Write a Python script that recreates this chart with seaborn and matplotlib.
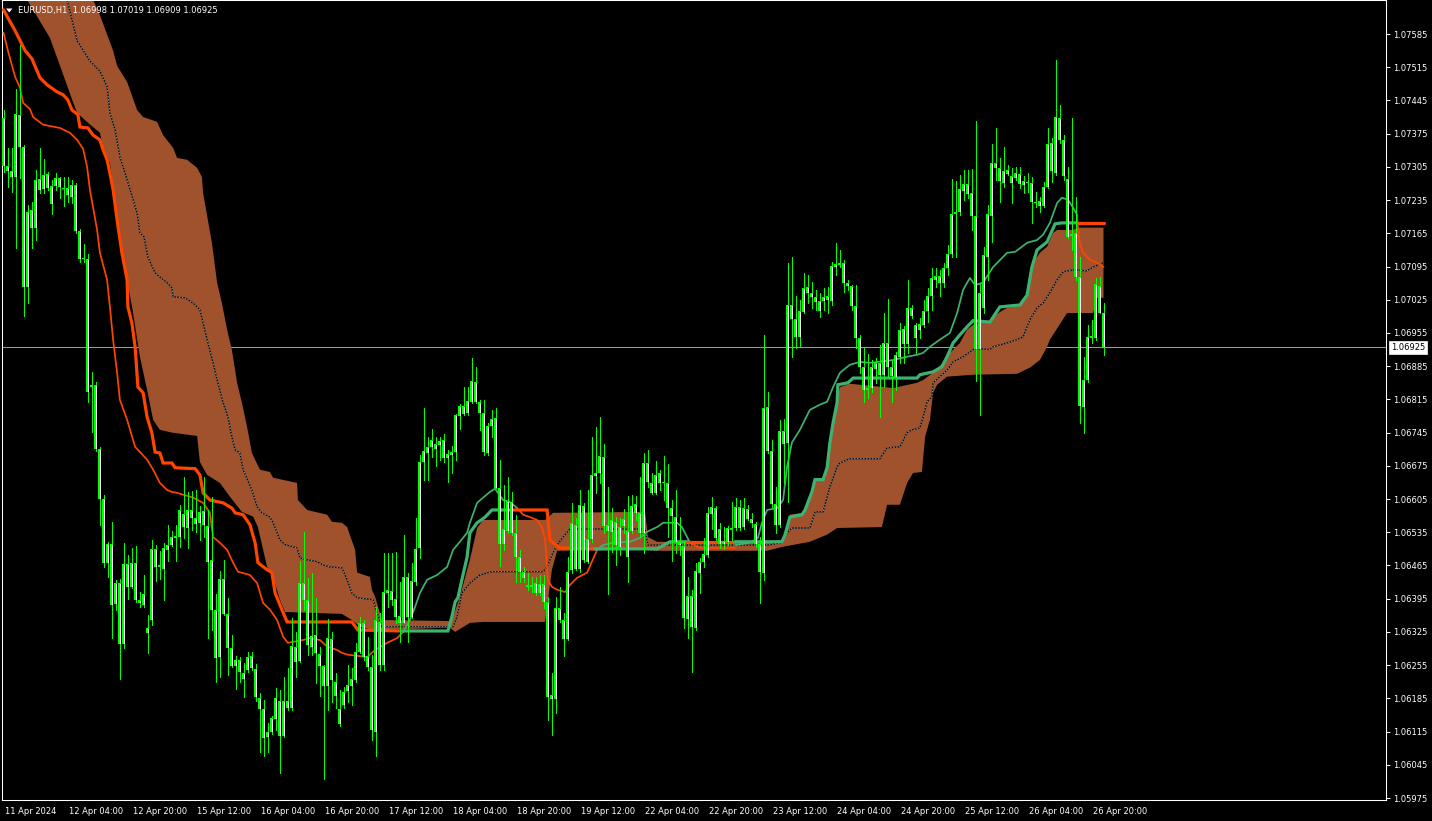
import numpy as np
import matplotlib
matplotlib.use("Agg")
import matplotlib.pyplot as plt
import matplotlib.transforms as mtrans
from matplotlib.patches import Polygon
import seaborn as sns

# ---------------- data (EURUSD H1, 11 Apr 12:00 .. 26 Apr 23:00) ----------------
open_ = [
1.07408,1.07307,1.07297,1.07284,1.07415,1.07347,1.07052,1.07214,1.07176,1.07280,
1.07259,1.07290,1.07265,1.07265,1.07282,1.07261,1.07261,1.07242,1.07267,1.07170,
1.07111,1.07111,1.06841,1.06846,1.06711,1.06605,1.06471,1.06511,1.06384,1.06428,
1.06300,1.06468,1.06420,1.06471,1.06393,1.06382,1.06323,1.06350,1.06500,1.06462,
1.06458,1.06498,1.06508,1.06523,1.06525,1.06574,1.06544,1.06582,1.06565,1.06555,
1.06580,1.06549,1.06477,1.06372,1.06272,1.06437,1.06363,1.06291,1.06253,1.06266,
1.06239,1.06245,1.06275,1.06247,1.06186,1.06163,1.06104,1.06114,1.06142,1.06180,
1.06106,1.06180,1.06165,1.06294,1.06264,1.06428,1.06393,1.06294,1.06319,1.06279,
1.06253,1.06211,1.06310,1.06220,1.06163,1.06171,1.06201,1.06211,1.06224,1.06283,
1.06344,1.06275,1.06251,1.06114,1.06346,1.06256,1.06407,1.06412,1.06395,1.06359,
1.06344,1.06441,1.06357,1.06430,1.06502,1.06683,1.06702,1.06715,1.06721,1.06719,
1.06730,1.06692,1.06698,1.06704,1.06780,1.06801,1.06787,1.06810,1.06852,1.06810,
1.06787,1.06702,1.06759,1.06776,1.06629,1.06511,1.06538,1.06599,1.06534,1.06483,
1.06452,1.06424,1.06420,1.06428,1.06407,1.06426,1.06388,1.06184,1.06184,1.06376,
1.06350,1.06310,1.06456,1.06551,1.06458,1.06591,1.06473,1.06521,1.06654,1.06660,
1.06694,1.06551,1.06536,1.06557,1.06504,1.06549,1.06538,1.06538,1.06595,1.06576,
1.06534,1.06681,1.06639,1.06618,1.06660,1.06639,1.06639,1.06586,1.06567,1.06515,
1.06506,1.06353,1.06401,1.06334,1.06450,1.06473,1.06487,1.06574,1.06586,1.06542,
1.06511,1.06515,1.06544,1.06544,1.06589,1.06546,1.06584,1.06563,1.06553,1.06511,
1.06450,1.06799,1.06707,1.06595,1.06551,1.06749,1.06723,1.07014,1.06985,1.06947,
1.06999,1.07052,1.07040,1.07031,1.07023,1.07023,1.07033,1.07023,1.07094,1.07099,
1.07103,1.07061,1.07054,1.07012,1.06945,1.06884,1.06835,1.06839,1.06879,1.06892,
1.06867,1.06934,1.06884,1.06862,1.06905,1.06964,1.06932,1.07008,1.06972,1.06962,
1.06972,1.07002,1.07033,1.07067,1.07075,1.07061,1.07092,1.07122,1.07206,1.07210,
1.07254,1.07269,1.07250,1.07202,1.06921,1.07008,1.07115,1.07202,1.07313,1.07303,
1.07271,1.07299,1.07286,1.07282,1.07290,1.07267,1.07274,1.07271,1.07231,1.07233,
1.07223,1.07263,1.07356,1.07292,1.07408,1.07362,1.07280,1.07160,1.07166,1.07073,
1.06799,1.06856,1.06945,1.06945,1.07054,1.06998]

high = [
1.07425,1.07345,1.07345,1.07469,1.07562,1.07351,1.07225,1.07231,1.07299,1.07345,
1.07322,1.07295,1.07278,1.07292,1.07284,1.07284,1.07284,1.07278,1.07271,1.07174,
1.07143,1.07122,1.06873,1.06852,1.06715,1.06614,1.06515,1.06557,1.06435,1.06437,
1.06513,1.06487,1.06502,1.06506,1.06409,1.06445,1.06361,1.06519,1.06508,1.06496,
1.06513,1.06551,1.06538,1.06551,1.06593,1.06652,1.06620,1.06622,1.06624,1.06591,
1.06652,1.06582,1.06610,1.06405,1.06454,1.06477,1.06397,1.06319,1.06275,1.06272,
1.06260,1.06283,1.06283,1.06258,1.06197,1.06182,1.06133,1.06148,1.06207,1.06203,
1.06230,1.06249,1.06355,1.06325,1.06475,1.06536,1.06439,1.06450,1.06397,1.06294,
1.06256,1.06353,1.06325,1.06239,1.06203,1.06209,1.06256,1.06249,1.06302,1.06357,
1.06350,1.06315,1.06277,1.06378,1.06365,1.06492,1.06492,1.06492,1.06494,1.06430,
1.06530,1.06450,1.06471,1.06565,1.06698,1.06797,1.06736,1.06753,1.06736,1.06736,
1.06742,1.06709,1.06717,1.06785,1.06806,1.06841,1.06841,1.06903,1.06884,1.06814,
1.06814,1.06766,1.06793,1.06797,1.06688,1.06635,1.06652,1.06620,1.06572,1.06498,
1.06462,1.06450,1.06441,1.06441,1.06445,1.06445,1.06399,1.06239,1.06399,1.06420,
1.06365,1.06483,1.06597,1.06565,1.06624,1.06597,1.06624,1.06736,1.06757,1.06778,
1.06721,1.06631,1.06586,1.06567,1.06565,1.06584,1.06612,1.06614,1.06612,1.06652,
1.06702,1.06709,1.06660,1.06686,1.06667,1.06696,1.06679,1.06603,1.06624,1.06567,
1.06515,1.06441,1.06414,1.06471,1.06481,1.06523,1.06589,1.06610,1.06591,1.06555,
1.06546,1.06549,1.06599,1.06608,1.06603,1.06608,1.06593,1.06576,1.06557,1.06525,
1.06951,1.06831,1.06730,1.06631,1.06772,1.06774,1.07103,1.07115,1.07033,1.07025,
1.07082,1.07077,1.07063,1.07046,1.07040,1.07050,1.07052,1.07105,1.07145,1.07130,
1.07109,1.07067,1.07056,1.07056,1.06951,1.06926,1.06911,1.06898,1.06903,1.06930,
1.06997,1.07027,1.06898,1.06915,1.06976,1.06970,1.07067,1.07014,1.06976,1.06987,
1.07025,1.07050,1.07092,1.07092,1.07088,1.07103,1.07141,1.07280,1.07276,1.07288,
1.07299,1.07299,1.07301,1.07402,1.07061,1.07136,1.07225,1.07353,1.07387,1.07324,
1.07347,1.07309,1.07303,1.07305,1.07305,1.07286,1.07292,1.07284,1.07252,1.07242,
1.07274,1.07387,1.07366,1.07531,1.07436,1.07372,1.07305,1.07408,1.07242,1.07115,
1.06905,1.06972,1.06983,1.07071,1.07073,1.07019]

low = [
1.07295,1.07263,1.07252,1.07134,1.07282,1.06991,1.07018,1.07134,1.07151,1.07250,
1.07250,1.07257,1.07206,1.07257,1.07240,1.07223,1.07231,1.07229,1.07166,1.07105,
1.07105,1.06810,1.06747,1.06707,1.06551,1.06462,1.06441,1.06312,1.06372,1.06226,
1.06291,1.06395,1.06418,1.06388,1.06378,1.06378,1.06281,1.06340,1.06433,1.06437,
1.06393,1.06475,1.06506,1.06475,1.06504,1.06523,1.06502,1.06540,1.06536,1.06519,
1.06525,1.06312,1.06329,1.06220,1.06230,1.06361,1.06235,1.06251,1.06205,1.06220,
1.06188,1.06241,1.06245,1.06180,1.06072,1.06064,1.06072,1.06110,1.06119,1.06028,
1.06104,1.06161,1.06161,1.06230,1.06262,1.06372,1.06277,1.06277,1.06218,1.06190,
1.06015,1.06161,1.06178,1.06165,1.06127,1.06165,1.06178,1.06171,1.06220,1.06281,
1.06266,1.06245,1.06098,1.06064,1.06245,1.06245,1.06378,1.06382,1.06344,1.06304,
1.06344,1.06304,1.06355,1.06424,1.06481,1.06645,1.06645,1.06694,1.06675,1.06688,
1.06683,1.06641,1.06660,1.06688,1.06753,1.06783,1.06783,1.06808,1.06808,1.06751,
1.06698,1.06698,1.06736,1.06629,1.06464,1.06498,1.06534,1.06530,1.06430,1.06430,
1.06430,1.06414,1.06410,1.06403,1.06403,1.06376,1.06140,1.06108,1.06155,1.06346,
1.06275,1.06308,1.06450,1.06456,1.06452,1.06473,1.06471,1.06515,1.06618,1.06639,
1.06534,1.06405,1.06494,1.06466,1.06487,1.06534,1.06430,1.06534,1.06561,1.06525,
1.06492,1.06631,1.06616,1.06616,1.06624,1.06603,1.06525,1.06475,1.06492,1.06487,
1.06334,1.06312,1.06241,1.06329,1.06407,1.06462,1.06483,1.06542,1.06519,1.06502,
1.06500,1.06508,1.06519,1.06540,1.06540,1.06542,1.06561,1.06546,1.06504,1.06386,
1.06435,1.06702,1.06589,1.06534,1.06546,1.06639,1.06599,1.06905,1.06924,1.06926,
1.06997,1.07018,1.07008,1.07004,1.06989,1.07004,1.06997,1.07014,1.07077,1.07094,
1.07042,1.07046,1.07004,1.06924,1.06871,1.06810,1.06818,1.06831,1.06850,1.06778,
1.06841,1.06862,1.06810,1.06835,1.06892,1.06892,1.06913,1.06987,1.06913,1.06945,
1.06968,1.06978,1.07004,1.07052,1.07033,1.07052,1.07077,1.07115,1.07115,1.07204,
1.07236,1.07240,1.07172,1.06854,1.06783,1.06997,1.07067,1.07147,1.07278,1.07231,
1.07263,1.07288,1.07229,1.07278,1.07261,1.07250,1.07252,1.07187,1.07221,1.07210,
1.07221,1.07261,1.07274,1.07288,1.07356,1.07278,1.07155,1.07130,1.07067,1.06766,
1.06744,1.06852,1.06934,1.06940,1.06997,1.06909]

close = [
1.07307,1.07297,1.07284,1.07417,1.07347,1.07052,1.07210,1.07176,1.07278,1.07257,
1.07288,1.07261,1.07227,1.07282,1.07263,1.07259,1.07246,1.07267,1.07170,1.07111,
1.07113,1.06831,1.06846,1.06711,1.06605,1.06471,1.06511,1.06382,1.06428,1.06300,
1.06468,1.06420,1.06471,1.06393,1.06386,1.06405,1.06334,1.06500,1.06462,1.06466,
1.06502,1.06508,1.06525,1.06527,1.06582,1.06546,1.06582,1.06565,1.06553,1.06578,
1.06551,1.06473,1.06372,1.06270,1.06437,1.06363,1.06291,1.06253,1.06266,1.06241,
1.06226,1.06272,1.06249,1.06188,1.06163,1.06102,1.06114,1.06144,1.06186,1.06106,
1.06180,1.06165,1.06296,1.06262,1.06428,1.06393,1.06298,1.06317,1.06281,1.06253,
1.06211,1.06312,1.06224,1.06190,1.06131,1.06199,1.06213,1.06226,1.06283,1.06344,
1.06272,1.06251,1.06119,1.06350,1.06256,1.06409,1.06414,1.06393,1.06357,1.06344,
1.06441,1.06357,1.06433,1.06500,1.06683,1.06707,1.06715,1.06730,1.06711,1.06728,
1.06692,1.06700,1.06704,1.06783,1.06801,1.06785,1.06812,1.06854,1.06810,1.06787,
1.06704,1.06759,1.06774,1.06629,1.06511,1.06542,1.06601,1.06534,1.06483,1.06452,
1.06439,1.06420,1.06424,1.06407,1.06426,1.06388,1.06188,1.06192,1.06376,1.06350,
1.06310,1.06452,1.06555,1.06458,1.06593,1.06477,1.06521,1.06656,1.06660,1.06696,
1.06549,1.06538,1.06561,1.06508,1.06546,1.06563,1.06483,1.06591,1.06576,1.06534,
1.06681,1.06641,1.06618,1.06656,1.06639,1.06641,1.06586,1.06570,1.06515,1.06508,
1.06355,1.06401,1.06336,1.06454,1.06473,1.06490,1.06576,1.06589,1.06523,1.06511,
1.06517,1.06544,1.06540,1.06589,1.06544,1.06586,1.06563,1.06555,1.06511,1.06452,
1.06797,1.06707,1.06595,1.06551,1.06749,1.06721,1.07014,1.06985,1.06947,1.07002,
1.07050,1.07040,1.07031,1.07021,1.07002,1.07031,1.07025,1.07096,1.07101,1.07103,
1.07061,1.07054,1.07012,1.06945,1.06884,1.06835,1.06839,1.06884,1.06892,1.06867,
1.06934,1.06884,1.06865,1.06909,1.06962,1.06932,1.07008,1.06991,1.06945,1.06974,
1.07002,1.07033,1.07071,1.07075,1.07061,1.07092,1.07122,1.07206,1.07210,1.07259,
1.07269,1.07248,1.07202,1.06921,1.07040,1.07120,1.07206,1.07313,1.07303,1.07276,
1.07297,1.07290,1.07271,1.07292,1.07269,1.07276,1.07271,1.07231,1.07229,1.07223,
1.07263,1.07353,1.07297,1.07410,1.07362,1.07286,1.07158,1.07164,1.07073,1.06801,
1.06856,1.06947,1.06949,1.07058,1.06997,1.06925]

# band (cloud) upper / lower edges and its dotted middle line (bar index, price)
band_up_x = [0,11.6,22.4,24.1,27.4,28.4,30.9,33.4,34.9,38.4,39.9,42.4,43.4,45.9,48.4,49.6,49.9,52.1,53.4,54.6,
             55.9,57.1,58.4,59.6,60.9,62.1,64.1,66.6,67.4,73.4,73.6,75.9,80.9,82.1,84.6,85.9,87.9,88.4,91.6,92.1,
             92.9,94.1,94.6,111.6,112.4,114.1,116.6,118.4,119.9,135.4,137.4,160.4,161.1,163.4,190.9,194.9,196.6,199.9,201.6,202.4,
             205.4,206.1,207.1,207.9,209.1,211.6,222.4,228.4,229.9,232.4,234.9,236.6,239.1,240.9,242.4,244.1,246.6,247.4,249.1,250.9,
             254.1,255.9,256.6,257.4,259.1,260.9,262.4,263.4,267.4,268.4,275]
band_up_y = [1.07868,1.07762,1.07657,1.07625,1.07550,1.07518,1.07484,1.07425,1.07410,1.07400,1.07372,1.07345,1.07324,1.07320,1.07303,1.07284,1.07250,1.07145,1.07061,1.07018,
             1.06962,1.06919,1.06850,1.06808,1.06757,1.06702,1.06667,1.06662,1.06650,1.06639,1.06603,1.06582,1.06572,1.06557,1.06555,1.06546,1.06498,1.06450,1.06441,1.06414,
             1.06399,1.06365,1.06350,1.06348,1.06357,1.06399,1.06477,1.06544,1.06561,1.06561,1.06576,1.06578,1.06525,1.06515,1.06515,1.06519,1.06572,1.06576,1.06603,1.06646,
             1.06648,1.06688,1.06745,1.06799,1.06841,1.06848,1.06839,1.06850,1.06856,1.06871,1.06892,1.06913,1.06934,1.06962,1.06972,1.06976,1.06978,1.06989,1.06999,1.07008,
             1.07012,1.07031,1.07067,1.07103,1.07124,1.07137,1.07166,1.07172,1.07172,1.07177,1.07177]
band_lo_x = [0,5.9,11.6,14.6,17.1,18.4,21.1,24.1,24.9,26.6,28.4,30.9,32.4,34.1,35.9,37.4,39.1,42.1,48.4,49.1,
             50.9,54.1,56.6,59.6,62.4,63.6,65.9,67.4,69.1,70.4,77.4,84.6,87.1,89.1,92.4,111.6,112.9,116.6,119.9,135.4,
             137.1,138.4,160.4,163.4,190.9,194.6,201.6,205.9,208.4,219.6,220.9,224.1,225.9,227.4,229.6,230.4,231.6,232.4,233.4,235.9,
             242.4,253.4,256.6,259.1,260.9,261.6,265.9,272.4,273.4,275]
band_lo_y = [1.07741,1.07657,1.07577,1.07507,1.07448,1.07419,1.07398,1.07377,1.07347,1.07313,1.07208,1.07067,1.06997,1.06905,1.06835,1.06772,1.06751,1.06745,1.06738,1.06683,
             1.06656,1.06639,1.06610,1.06578,1.06568,1.06546,1.06462,1.06441,1.06393,1.06367,1.06365,1.06363,1.06350,1.06336,1.06329,1.06334,1.06325,1.06344,1.06346,1.06346,
             1.06456,1.06496,1.06498,1.06496,1.06496,1.06504,1.06515,1.06530,1.06544,1.06546,1.06593,1.06593,1.06639,1.06660,1.06662,1.06736,1.06772,1.06829,1.06846,1.06863,
             1.06867,1.06869,1.06882,1.06898,1.06926,1.06941,1.06997,1.06997,1.07029,1.07029]
mid_x = [0,15.9,18.4,21.6,24.1,25.9,26.6,27.9,29.1,30.9,32.4,33.4,34.1,35.1,36.1,37.9,39.1,40.9,42.1,42.4,
         45.4,47.4,49.1,49.9,50.9,52.4,53.4,54.9,56.1,57.1,57.9,59.1,59.9,62.1,63.4,64.6,66.6,67.4,69.1,70.4,
         73.4,74.1,75.9,78.4,79.9,81.6,84.6,85.9,87.1,88.4,92.4,93.4,94.1,94.6,112.4,113.4,114.6,116.6,119.1,122.1,
         134.9,135.9,137.1,138.4,139.9,141.6,160.4,161.1,190.9,194.6,195.9,197.1,201.6,202.9,204.9,206.6,208.4,209.1,211.6,219.1,
         220.9,224.1,225.9,227.1,229.1,229.9,230.9,232.1,232.4,234.1,235.9,237.4,239.9,242.4,244.1,246.6,247.4,250.9,253.4,254.9,
         256.6,258.4,259.9,261.6,263.4,264.9,267.4,270.9,272.4,275]
mid_y = [1.07805,1.07657,1.07571,1.07528,1.07507,1.07474,1.07419,1.07383,1.07326,1.07278,1.07236,1.07208,1.07166,1.07158,1.07115,1.07082,1.07073,1.07061,1.07050,1.07031,
         1.07029,1.07018,1.07004,1.06976,1.06941,1.06892,1.06856,1.06808,1.06778,1.06736,1.06709,1.06702,1.06667,1.06624,1.06589,1.06576,1.06567,1.06555,1.06519,1.06509,
         1.06502,1.06481,1.06477,1.06473,1.06466,1.06462,1.06460,1.06435,1.06407,1.06397,1.06393,1.06365,1.06350,1.06336,1.06336,1.06357,1.06407,1.06428,1.06445,1.06452,
         1.06452,1.06462,1.06487,1.06508,1.06525,1.06542,1.06542,1.06508,1.06508,1.06513,1.06534,1.06544,1.06544,1.06578,1.06578,1.06631,1.06673,1.06681,1.06690,1.06690,
         1.06713,1.06715,1.06745,1.06751,1.06755,1.06778,1.06810,1.06821,1.06850,1.06863,1.06877,1.06894,1.06905,1.06920,1.06922,1.06920,1.06926,1.06934,1.06941,1.06947,
         1.06983,1.07008,1.07018,1.07040,1.07067,1.07084,1.07088,1.07086,1.07094,1.07103]

# thick trend line: alternating runs (down = orange, up = green)
thick_dn1_x = [0,2.9,5.4,7.1,9.1,10.9,13.4,14.9,16.1,17.1,18.6,19.1,21.1,22.4,24.1,24.9,25.9,26.6,27.4,28.4,
               29.6,30.9,31.1,32.1,32.9,33.6,34.9,35.9,37.1,37.9,39.1,39.9,42.1,42.9,47.9,49.1,49.9,51.6,54.9,57.1,
               57.9,59.9,61.6,62.9,63.6,65.9,67.1,67.9,69.6,70.9,87.1,88.6,99.9]
thick_dn1_y = [1.07636,1.07592,1.07550,1.07533,1.07493,1.07478,1.07463,1.07457,1.07446,1.07425,1.07415,1.07389,1.07387,1.07372,1.07362,1.07341,1.07320,1.07292,1.07257,1.07193,
               1.07124,1.07067,1.07010,1.06976,1.06926,1.06841,1.06829,1.06778,1.06744,1.06704,1.06702,1.06681,1.06681,1.06671,1.06669,1.06656,1.06618,1.06603,1.06597,1.06586,
               1.06576,1.06572,1.06551,1.06513,1.06471,1.06456,1.06450,1.06407,1.06372,1.06346,1.06346,1.06329,1.06327]
thick_up1_x = [99.9,111.1,112.1,112.9,113.6,114.6,115.9,116.6,118.4,119.1,120.4,122.1,127.1]
thick_up1_y = [1.06327,1.06327,1.06357,1.06388,1.06397,1.06435,1.06483,1.06534,1.06555,1.06559,1.06567,1.06582,1.06582]
thick_dn2_x = [127.1,135.9,136.6,137.4,139.1,147.9]
thick_dn2_y = [1.06582,1.06582,1.06519,1.06513,1.06502,1.06500]
thick_up2_x = [147.9,163.4,166.6,170.9]
thick_up2_y = [1.06500,1.06500,1.06515,1.06515]
thick_dn3_x = [170.9,182.9]
thick_dn3_y = [1.06515,1.06515]
thick_up3_x = [182.9,194.6,195.4,196.6,199.6,200.4,202.1,202.9,204.9,205.9,206.6,207.4,208.4,208.6,211.1,212.4,228.4,229.1,232.4,234.6,
               235.9,237.4,239.1,240.9,242.4,246.6,249.1,254.1,255.9,257.1,258.4,260.9,262.9,264.6,268.4]
thick_up3_y = [1.06515,1.06515,1.06530,1.06567,1.06572,1.06582,1.06620,1.06646,1.06646,1.06671,1.06724,1.06766,1.06808,1.06846,1.06850,1.06860,1.06860,1.06867,1.06873,1.06884,
               1.06905,1.06934,1.06951,1.06968,1.06981,1.06978,1.07010,1.07014,1.07035,1.07094,1.07130,1.07147,1.07185,1.07187,1.07187]
thick_dn4_x = [268.4,275]
thick_dn4_y = [1.07187,1.07187]

# thin signal line: alternating runs (down = orange, up = green)
thin_dn1_x = [0,1.1,2.9,4.1,4.9,6.6,7.4,9.9,14.1,16.6,18.4,19.9,20.9,21.6,23.4,24.1,25.9,26.6,27.4,28.4,
              29.1,30.9,32.9,35.9,37.4,39.1,40.9,42.1,43.4,47.4,49.9,51.6,52.4,54.1,55.9,57.4,58.6,61.6,63.4,64.9,
              66.6,68.4,69.9,71.1,74.9,76.6,79.1,80.9,83.4,84.6,86.1,90.9,92.9,95.9,98.4,99.9]
thin_dn1_y = [1.07588,1.07550,1.07495,1.07472,1.07440,1.07427,1.07410,1.07394,1.07387,1.07377,1.07362,1.07343,1.07305,1.07257,1.07172,1.07124,1.07067,1.07010,1.06941,1.06871,
              1.06814,1.06772,1.06715,1.06688,1.06667,1.06639,1.06624,1.06620,1.06618,1.06608,1.06597,1.06576,1.06525,1.06513,1.06498,1.06471,1.06452,1.06445,1.06428,1.06386,
              1.06372,1.06350,1.06315,1.06302,1.06308,1.06312,1.06308,1.06294,1.06287,1.06281,1.06277,1.06272,1.06287,1.06302,1.06312,1.06325]
thin_up1_x = [99.9,101.6,102.9,104.1,105.9,108.4,110.9,112.4,114.1,115.9,116.6,118.4,119.9,121.6,122.9,123.6,124.9,126.6,128.4]
thin_up1_y = [1.06325,1.06350,1.06378,1.06407,1.06435,1.06445,1.06462,1.06498,1.06515,1.06534,1.06555,1.06597,1.06608,1.06620,1.06627,1.06618,1.06603,1.06599,1.06586]
thin_dn2_x = [128.4,129.9,131.6,133.4,134.6,135.4,136.1,137.1,138.4,140.4,141.6,143.4,145.9,147.1,148.4]
thin_dn2_y = [1.06586,1.06572,1.06567,1.06561,1.06546,1.06519,1.06435,1.06420,1.06414,1.06409,1.06424,1.06439,1.06450,1.06473,1.06498]
thin_up2_x = [148.4,149.9,152.4,156.6,159.1,160.9,163.4,164.9,168.4,169.6,170.9,171.6]
thin_up2_y = [1.06498,1.06508,1.06513,1.06515,1.06523,1.06536,1.06546,1.06555,1.06555,1.06546,1.06525,1.06513]
thin_dn3_x = [171.6,174.1,182.9]
thin_dn3_y = [1.06513,1.06502,1.06502]
thin_up3_x = [182.9,186.6,188.6,189.6,190.9,193.4,194.9,195.9,197.1,199.1,201.6,204.1,205.9,207.4,209.1,211.6,214.1,216.6,222.4,225.9,
              228.4,229.9,231.6,234.1,236.6,238.4,239.9,241.6,242.9,244.9,247.4,250.9,252.9,255.9,258.4,259.9,261.6,263.4,264.6,266.1,
              267.4,268.4]
thin_up3_y = [1.06508,1.06513,1.06523,1.06555,1.06582,1.06586,1.06603,1.06673,1.06724,1.06751,1.06793,1.06804,1.06810,1.06841,1.06871,1.06888,1.06894,1.06892,1.06898,1.06905,
              1.06909,1.06913,1.06926,1.06941,1.06955,1.06997,1.07046,1.07071,1.07056,1.07061,1.07094,1.07124,1.07126,1.07145,1.07151,1.07162,1.07187,1.07229,1.07240,1.07236,
              1.07219,1.07204]
thin_dn4_x = [268.4,268.6,269.1,269.9,271.6,273.4,275]
thin_dn4_y = [1.07204,1.07172,1.07145,1.07124,1.07109,1.07103,1.07094]

last_price = 1.06925
header = "EURUSD,H1  1.06998 1.07019 1.06909 1.06925"
x_tick_bars = [0, 16, 32, 48, 64, 80, 96, 112, 128, 144, 160, 176, 192, 208, 224, 240, 256, 272]
x_tick_labels = ["11 Apr 2024", "12 Apr 04:00", "12 Apr 20:00", "15 Apr 12:00", "16 Apr 04:00",
                 "16 Apr 20:00", "17 Apr 12:00", "18 Apr 04:00", "18 Apr 20:00", "19 Apr 12:00",
                 "22 Apr 04:00", "22 Apr 20:00", "23 Apr 12:00", "24 Apr 04:00", "24 Apr 20:00",
                 "25 Apr 12:00", "26 Apr 04:00", "26 Apr 20:00"]
y_tick_labels = ["1.07585", "1.07515", "1.07445", "1.07375", "1.07305", "1.07235", "1.07165", "1.07095",
                 "1.07025", "1.06955", "1.06885", "1.06815", "1.06745", "1.06675", "1.06605", "1.06535",
                 "1.06465", "1.06395", "1.06325", "1.06255", "1.06185", "1.06115", "1.06045", "1.05975"]

# ---------------- styling ----------------
sns.set_theme(style="dark")
plt.rcParams['font.family'] = ['DejaVu Sans']

ORANGE = "#FF4500"
GREEN = "#3CB371"
BAND = "#A0522D"
LIME = "#00FF00"
FS = 6.0

W, H, DPI = 1432, 821, 100
fig = plt.figure(figsize=(W / DPI, H / DPI), dpi=DPI, facecolor="black")
ax = fig.add_axes([2 / W, 21 / H, 1384 / W, 800 / H])
ax.set_facecolor("black")
ax.grid(False)

# axes limits calibrated to the reference price scale
ax.set_xlim(-0.375, 345.625)
ax.set_ylim(1.059708, 1.076567)
px_price = (1.076567 - 1.059708) / 800.0   # price span of one pixel row

# price line
ax.axhline(last_price, color="#9a9a9a", lw=0.75, zorder=0.5)

# band polygon
poly_x = list(band_up_x) + list(band_lo_x)[::-1]
poly_y = list(band_up_y) + list(band_lo_y)[::-1]
ax.fill(poly_x, poly_y, color=BAND, lw=0, zorder=1)

# dotted middle line (MT4 style: gray dots, gaps in background colour)
sns.lineplot(x=mid_x, y=mid_y, ax=ax, color="black", lw=0.9, sort=False, estimator=None, zorder=2)
sns.lineplot(x=mid_x, y=mid_y, ax=ax, color="#8a8a8a", lw=0.9, sort=False, estimator=None, zorder=2.1)
ax.lines[-1].set_dashes([1.2, 1.2])

thin_runs = [(thin_dn1_x, thin_dn1_y, ORANGE), (thin_up1_x, thin_up1_y, GREEN),
             (thin_dn2_x, thin_dn2_y, ORANGE), (thin_up2_x, thin_up2_y, GREEN),
             (thin_dn3_x, thin_dn3_y, ORANGE), (thin_up3_x, thin_up3_y, GREEN),
             (thin_dn4_x, thin_dn4_y, ORANGE)]
for xs, ys, c in thin_runs:
    sns.lineplot(x=xs, y=ys, ax=ax, color=c, lw=1.25, sort=False, estimator=None, zorder=3)

thick_runs = [(thick_dn1_x, thick_dn1_y, ORANGE), (thick_up1_x, thick_up1_y, GREEN),
              (thick_dn2_x, thick_dn2_y, ORANGE), (thick_up2_x, thick_up2_y, GREEN),
              (thick_dn3_x, thick_dn3_y, ORANGE), (thick_up3_x, thick_up3_y, GREEN),
              (thick_dn4_x, thick_dn4_y, ORANGE)]
for xs, ys, c in thick_runs:
    sns.lineplot(x=xs, y=ys, ax=ax, color=c, lw=2.3, sort=False, estimator=None, zorder=3.5,
                 solid_joinstyle="miter")

# candles: 1px wick, 3px lime body with a 1px white core
o = np.array(open_); h = np.array(high); l = np.array(low); c = np.array(close)
n = min(len(o), len(h), len(l), len(c))
bars = np.arange(n)
o, h, l, c = o[:n], h[:n], l[:n], c[:n]
ax.vlines(bars, l, h, color=LIME, lw=0.72, zorder=5, antialiased=False)
body_lo = np.minimum(o, c)
body_hi = np.maximum(o, c)
body_h = np.maximum(body_hi - body_lo, px_price)
ax.bar(bars, body_h, bottom=body_lo, width=0.75, color=LIME, linewidth=0,
       zorder=6, antialiased=False)
core = (body_hi - body_lo) > 2.5 * px_price
ax.vlines(bars[core], body_lo[core] + px_price, body_hi[core] - px_price,
          color="white", lw=0.72, zorder=7, antialiased=False)

# right price scale
ax.yaxis.tick_right()
ax.set_yticks([float(s) for s in y_tick_labels])
ax.set_yticklabels(y_tick_labels)
ax.tick_params(axis="y", colors="white", labelsize=FS, length=3, width=0.75, pad=2.3)
# bottom time scale
ax.set_xticks(x_tick_bars)
ax.set_xticklabels(x_tick_labels)
ax.tick_params(axis="x", colors="white", labelsize=FS, length=3, width=0.75, pad=2.2)
shift = mtrans.ScaledTranslation(1.5 / DPI, 0, fig.dpi_scale_trans)
for lbl in ax.get_xticklabels():
    lbl.set_ha("left")
    lbl.set_transform(lbl.get_transform() + shift)
ax.set_xlabel(""); ax.set_ylabel("")
for s in ax.spines.values():
    s.set_color("white"); s.set_linewidth(0.75)

# current price label
blend = mtrans.blended_transform_factory(ax.transAxes, ax.transData)
ax.text(1.0, last_price, "1.06925", transform=blend + mtrans.ScaledTranslation(5 / DPI, 0, fig.dpi_scale_trans),
        ha="left", va="center", fontsize=FS, color="black", zorder=10, clip_on=False,
        bbox=dict(boxstyle="square,pad=0.25", fc="white", ec="white", lw=0.5))

# header
fig.text(18 / W, 1 - 11 / H, header, color="white", fontsize=FS, va="center", ha="left")
fig.patches.append(Polygon([[6, H - 8.5], [12.5, H - 8.5], [9.25, H - 12.5]], closed=True,
                           transform=None, facecolor="white", edgecolor="none", figure=fig))

fig.savefig("out.png", dpi=DPI, facecolor="black")
